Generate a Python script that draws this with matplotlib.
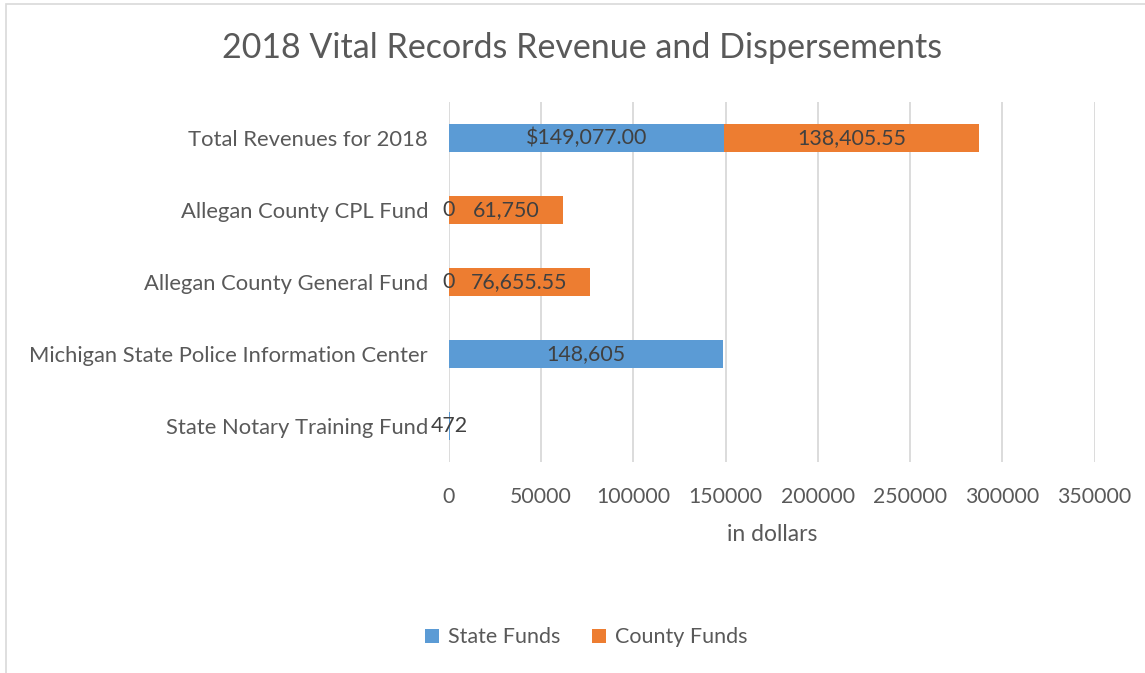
import matplotlib
matplotlib.use("Agg")
import matplotlib.pyplot as plt
from matplotlib.patches import Rectangle

categories = ["Total Revenues for 2018", "Allegan County CPL Fund", "Allegan County General Fund",
              "Michigan State Police Information Center", "State Notary Training Fund"]
state_funds = [149077.00, 0, 0, 148605, 472]
county_funds = [138405.55, 61750, 76655.55, 0, 0]
state_labels = ["$149,077.00", "0", "0", "148,605", "472"]
county_labels = ["138,405.55", "61,750", "76,655.55", "", ""]
xticks = [0, 50000, 100000, 150000, 200000, 250000, 300000, 350000]

FONT = ["Lato", "DejaVu Sans"]
TXT = "#595959"
BLUE = "#5B9BD5"
ORANGE = "#ED7D31"

fig = plt.figure(figsize=(11.45, 6.73), dpi=100)
ax = fig.add_axes([0.392, 0.3135, 0.564, 0.535])

y = list(range(len(categories)))
h = 0.39
ax.barh(y, state_funds, height=h, color=BLUE, label="State Funds", zorder=3)
ax.barh(y, county_funds, left=state_funds, height=h, color=ORANGE, label="County Funds", zorder=3)

for i in y:
    sx = state_funds[i] / 2
    ax.text(sx, i, state_labels[i], ha="center", va="center", fontsize=15.4, color="#404040",
            family=FONT, zorder=4)
    if county_labels[i]:
        cx = state_funds[i] + county_funds[i] / 2
        ax.text(cx, i, county_labels[i], ha="center", va="center", fontsize=15.4, color="#404040",
                family=FONT, zorder=4)

ax.set_ylim(len(categories) - 0.5, -0.5)
ax.set_xlim(0, 350000)
ax.set_yticks(y)
ax.set_yticklabels(categories, family=FONT, fontsize=15.8, color=TXT)
ax.set_xticks(xticks)
ax.set_xticklabels([str(v) for v in xticks], family=FONT, fontsize=15.3, color=TXT)
ax.tick_params(axis="both", length=0)
ax.tick_params(axis="y", pad=15)
ax.tick_params(axis="x", pad=18)
ax.grid(axis="x", color="#D9D9D9", linewidth=1.3, zorder=0)
for s in ax.spines.values():
    s.set_visible(False)
ax.set_xlabel("in dollars", family=FONT, fontsize=16.5, color=TXT, labelpad=12)

fig.text(0.508, 0.928, "2018 Vital Records Revenue and Dispersements", ha="center", va="center",
         family=FONT, fontsize=24.5, color=TXT)

handles, labels = ax.get_legend_handles_labels()
leg = fig.legend(handles, labels, loc="center", bbox_to_anchor=(0.512, 0.053), ncol=2, frameon=False,
                 prop={"family": FONT, "size": 15.5}, handlelength=0.65, handleheight=0.65,
                 columnspacing=1.5, handletextpad=0.4)
for t in leg.get_texts():
    t.set_color(TXT)

fig.patches.append(Rectangle((6 / 1145, -0.01), 1.02, 1 - 4 / 673 + 0.01, transform=fig.transFigure,
                             fill=False, edgecolor="#D9D9D9", linewidth=1.2))

fig.savefig("out.png", dpi=100)
